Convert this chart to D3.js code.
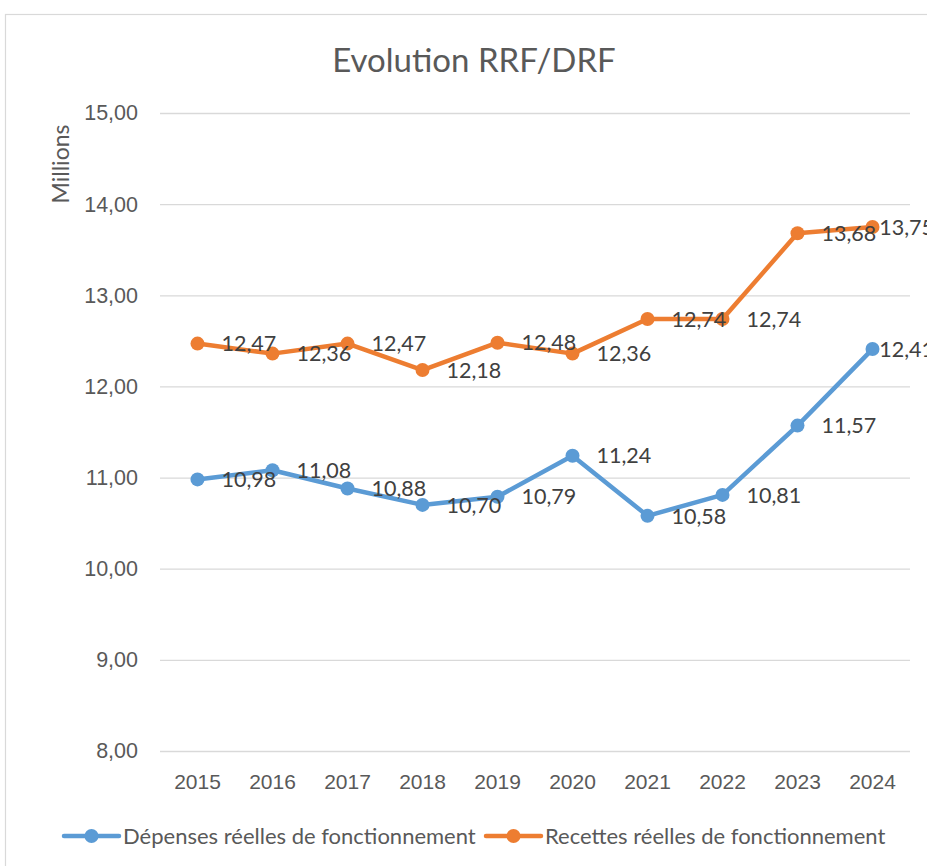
<!DOCTYPE html>
<html><head><meta charset="utf-8">
<script src="https://cdn.jsdelivr.net/npm/d3@7"></script>
<style>
html,body{margin:0;padding:0;background:#fff;}
svg{display:block;font-family:Lato,"Open Sans",sans-serif;}
</style></head>
<body>
<script>
const years = ["2015","2016","2017","2018","2019","2020","2021","2022","2023","2024"];
const depenses = [10.98, 11.08, 10.88, 10.70, 10.79, 11.24, 10.58, 10.81, 11.57, 12.41];
const recettes = [12.47, 12.36, 12.47, 12.18, 12.48, 12.36, 12.74, 12.74, 13.68, 13.75];
const yTicks = [8, 9, 10, 11, 12, 13, 14, 15];
const seriesNames = ["Dépenses réelles de fonctionnement", "Recettes réelles de fonctionnement"];
const title = "Evolution RRF/DRF";
const yTitle = "Millions";

const W = 927, H = 866;
const textCol = "#595959", labelCol = "#404040", gridCol = "#d9d9d9";
const colors = ["#5B9BD5", "#ED7D31"];
const loc = d3.formatLocale({decimal: ",", thousands: " ", grouping: [3], currency: ["", "€"]});
const fmt = loc.format(".2f");
const chartRight = 934;

const svg = d3.select("body").append("svg").attr("width", W).attr("height", H);

// chart border
svg.append("rect").attr("x", 5.5).attr("y", 14.5).attr("width", 1000).attr("height", 1000)
  .attr("fill", "none").attr("stroke", gridCol).attr("stroke-width", 1.2);

const x = d3.scaleBand().domain(years).range([160, 910]).padding(0);
const y = d3.scaleLinear().domain([8, 15]).range([751, 113]);

// grid + y axis
const gy = svg.append("g").attr("transform", "translate(160,0)")
  .call(d3.axisLeft(y).tickValues(yTicks).tickFormat(fmt).tickSize(-750).tickPadding(22));
gy.select(".domain").remove();
gy.selectAll(".tick line").attr("stroke", gridCol).attr("stroke-width", 1.3);
gy.selectAll(".tick text").attr("fill", textCol).style("font-size", "21.5px").attr("font-family", null);

// x axis
const gx = svg.append("g").attr("transform", "translate(0,751)")
  .call(d3.axisBottom(x).tickSize(0).tickPadding(23));
gx.select(".domain").remove();
gx.selectAll(".tick text").attr("fill", textCol).style("font-size", "21px").attr("font-family", null);

// title
svg.append("text").attr("x", 474).attr("y", 72).attr("text-anchor", "middle")
  .attr("fill", textCol).style("font-size", "33px").text(title);

// y title
svg.append("text").attr("transform", "translate(69,164) rotate(-90)").attr("text-anchor", "middle")
  .attr("fill", textCol).style("font-size", "23px").text(yTitle);

const cx = (i) => x(years[i]) + x.bandwidth() / 2;
const line = d3.line().x((d, i) => cx(i)).y(d => y(d));
[depenses, recettes].forEach((vals, si) => {
  const g = svg.append("g");
  g.append("path").datum(vals).attr("d", line).attr("fill", "none")
    .attr("stroke", colors[si]).attr("stroke-width", 4.5).attr("stroke-linejoin", "round").attr("stroke-linecap", "round");
  g.selectAll("circle").data(vals).join("circle")
    .attr("cx", (d, i) => cx(i)).attr("cy", d => y(d)).attr("r", 7)
    .attr("fill", colors[si]);
  g.selectAll("text").data(vals).join("text")
    .attr("x", (d, i) => cx(i) + 24).attr("y", d => y(d)).attr("dy", "0.36em")
    .attr("fill", labelCol).style("font-size", "21.5px").text(d => fmt(d))
    .each(function () {
      const t = d3.select(this);
      const w = this.getComputedTextLength();
      const x0 = +t.attr("x");
      if (x0 + w > chartRight) t.attr("x", chartRight - w);
    });
});

// legend
const legendX = [64, 486];
seriesNames.forEach((name, si) => {
  const lg = svg.append("g").attr("transform", `translate(${legendX[si]},836)`);
  lg.append("line").attr("x1", 0).attr("x2", 55).attr("y1", 0).attr("y2", 0)
    .attr("stroke", colors[si]).attr("stroke-width", 4.5).attr("stroke-linecap", "round");
  lg.append("circle").attr("cx", 27.5).attr("cy", 0).attr("r", 7).attr("fill", colors[si]);
  lg.append("text").attr("x", 59).attr("y", 0).attr("dy", "0.36em").attr("fill", textCol)
    .style("font-size", "22px").text(name);
});
</script>
</body></html>
